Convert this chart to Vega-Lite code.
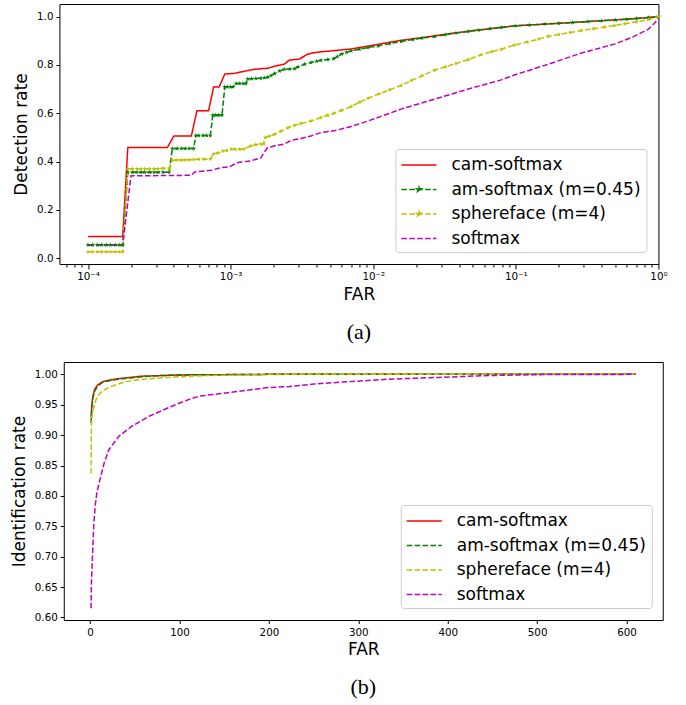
{
  "$schema": "https://vega.github.io/schema/vega-lite/v6.json",
  "background": "white",
  "padding": {"left": 9, "top": 3, "right": 5, "bottom": 5},
  "config": {
    "view": {"stroke": "black", "strokeWidth": 1},
    "font": "DejaVu Sans",
    "axis": {"domain": false, "grid": false, "labelFont": "DejaVu Sans", "labelFontSize": 10.3, "labelColor": "black", "tickColor": "black", "tickSize": 3.5, "labelPadding": 3, "titleFont": "DejaVu Sans", "titleFontSize": 17, "titleFontWeight": "normal", "titleColor": "black", "labelFlush": false, "labelOverlap": false},
    "legend": {"title": null, "orient": "none", "symbolType": "M-1,0L2.5,0", "symbolSize": 400, "symbolStrokeWidth": 1.5, "labelFont": "DejaVu Sans", "labelFontSize": 17, "labelColor": "black", "labelOffset": 29, "rowPadding": 5.5, "padding": 5, "strokeColor": "#cccccc", "fillColor": "white", "cornerRadius": 3, "labelLimit": 400},
    "title": {"font": "Liberation Serif", "fontSize": 22, "fontWeight": "normal", "color": "black"}
  },
  "datasets": {
    "a": [
      {"method": "cam-softmax", "far": 1e-4, "rate": 0.09},
      {"method": "cam-softmax", "far": 1.75e-4, "rate": 0.09},
      {"method": "cam-softmax", "far": 1.9e-4, "rate": 0.458},
      {"method": "cam-softmax", "far": 3.6e-4, "rate": 0.458},
      {"method": "cam-softmax", "far": 4.0e-4, "rate": 0.506},
      {"method": "cam-softmax", "far": 5.3e-4, "rate": 0.506},
      {"method": "cam-softmax", "far": 5.8e-4, "rate": 0.61},
      {"method": "cam-softmax", "far": 7.0e-4, "rate": 0.61},
      {"method": "cam-softmax", "far": 7.6e-4, "rate": 0.709},
      {"method": "cam-softmax", "far": 8.3e-4, "rate": 0.709},
      {"method": "cam-softmax", "far": 9.1e-4, "rate": 0.762},
      {"method": "cam-softmax", "far": 1.06e-3, "rate": 0.765},
      {"method": "cam-softmax", "far": 1.28e-3, "rate": 0.775},
      {"method": "cam-softmax", "far": 1.47e-3, "rate": 0.782},
      {"method": "cam-softmax", "far": 1.82e-3, "rate": 0.786},
      {"method": "cam-softmax", "far": 2.08e-3, "rate": 0.796},
      {"method": "cam-softmax", "far": 2.38e-3, "rate": 0.803},
      {"method": "cam-softmax", "far": 2.58e-3, "rate": 0.82},
      {"method": "cam-softmax", "far": 3.03e-3, "rate": 0.824},
      {"method": "cam-softmax", "far": 3.46e-3, "rate": 0.844},
      {"method": "cam-softmax", "far": 3.78e-3, "rate": 0.85},
      {"method": "cam-softmax", "far": 4.3e-3, "rate": 0.854},
      {"method": "cam-softmax", "far": 5.07e-3, "rate": 0.858},
      {"method": "cam-softmax", "far": 7.0e-3, "rate": 0.866},
      {"method": "cam-softmax", "far": 1.08e-2, "rate": 0.885},
      {"method": "cam-softmax", "far": 1.5e-2, "rate": 0.9},
      {"method": "cam-softmax", "far": 2.2e-2, "rate": 0.913},
      {"method": "cam-softmax", "far": 3.5e-2, "rate": 0.93},
      {"method": "cam-softmax", "far": 5.0e-2, "rate": 0.942},
      {"method": "cam-softmax", "far": 7.9e-2, "rate": 0.955},
      {"method": "cam-softmax", "far": 0.1, "rate": 0.962},
      {"method": "cam-softmax", "far": 0.2, "rate": 0.972},
      {"method": "cam-softmax", "far": 0.4, "rate": 0.983},
      {"method": "cam-softmax", "far": 0.7, "rate": 0.992},
      {"method": "cam-softmax", "far": 1.0, "rate": 1.0},

      {"method": "am-softmax (m=0.45)", "far": 1e-4, "rate": 0.055},
      {"method": "am-softmax (m=0.45)", "far": 1.08e-4, "rate": 0.055},
      {"method": "am-softmax (m=0.45)", "far": 1.16e-4, "rate": 0.055},
      {"method": "am-softmax (m=0.45)", "far": 1.25e-4, "rate": 0.055},
      {"method": "am-softmax (m=0.45)", "far": 1.34e-4, "rate": 0.055},
      {"method": "am-softmax (m=0.45)", "far": 1.44e-4, "rate": 0.055},
      {"method": "am-softmax (m=0.45)", "far": 1.55e-4, "rate": 0.055},
      {"method": "am-softmax (m=0.45)", "far": 1.65e-4, "rate": 0.055},
      {"method": "am-softmax (m=0.45)", "far": 1.75e-4, "rate": 0.055},
      {"method": "am-softmax (m=0.45)", "far": 1.9e-4, "rate": 0.356},
      {"method": "am-softmax (m=0.45)", "far": 2.05e-4, "rate": 0.356},
      {"method": "am-softmax (m=0.45)", "far": 2.2e-4, "rate": 0.356},
      {"method": "am-softmax (m=0.45)", "far": 2.35e-4, "rate": 0.356},
      {"method": "am-softmax (m=0.45)", "far": 2.5e-4, "rate": 0.356},
      {"method": "am-softmax (m=0.45)", "far": 2.7e-4, "rate": 0.356},
      {"method": "am-softmax (m=0.45)", "far": 2.9e-4, "rate": 0.356},
      {"method": "am-softmax (m=0.45)", "far": 3.1e-4, "rate": 0.356},
      {"method": "am-softmax (m=0.45)", "far": 3.35e-4, "rate": 0.356},
      {"method": "am-softmax (m=0.45)", "far": 3.7e-4, "rate": 0.356},
      {"method": "am-softmax (m=0.45)", "far": 3.9e-4, "rate": 0.454},
      {"method": "am-softmax (m=0.45)", "far": 4.2e-4, "rate": 0.454},
      {"method": "am-softmax (m=0.45)", "far": 4.5e-4, "rate": 0.454},
      {"method": "am-softmax (m=0.45)", "far": 4.8e-4, "rate": 0.454},
      {"method": "am-softmax (m=0.45)", "far": 5.1e-4, "rate": 0.454},
      {"method": "am-softmax (m=0.45)", "far": 5.5e-4, "rate": 0.454},
      {"method": "am-softmax (m=0.45)", "far": 5.7e-4, "rate": 0.508},
      {"method": "am-softmax (m=0.45)", "far": 6.0e-4, "rate": 0.508},
      {"method": "am-softmax (m=0.45)", "far": 6.4e-4, "rate": 0.508},
      {"method": "am-softmax (m=0.45)", "far": 6.8e-4, "rate": 0.508},
      {"method": "am-softmax (m=0.45)", "far": 7.2e-4, "rate": 0.508},
      {"method": "am-softmax (m=0.45)", "far": 7.5e-4, "rate": 0.592},
      {"method": "am-softmax (m=0.45)", "far": 7.8e-4, "rate": 0.592},
      {"method": "am-softmax (m=0.45)", "far": 8.2e-4, "rate": 0.592},
      {"method": "am-softmax (m=0.45)", "far": 8.7e-4, "rate": 0.592},
      {"method": "am-softmax (m=0.45)", "far": 9.1e-4, "rate": 0.709},
      {"method": "am-softmax (m=0.45)", "far": 9.5e-4, "rate": 0.709},
      {"method": "am-softmax (m=0.45)", "far": 1.0e-3, "rate": 0.709},
      {"method": "am-softmax (m=0.45)", "far": 1.04e-3, "rate": 0.709},
      {"method": "am-softmax (m=0.45)", "far": 1.09e-3, "rate": 0.723},
      {"method": "am-softmax (m=0.45)", "far": 1.15e-3, "rate": 0.723},
      {"method": "am-softmax (m=0.45)", "far": 1.22e-3, "rate": 0.723},
      {"method": "am-softmax (m=0.45)", "far": 1.28e-3, "rate": 0.723},
      {"method": "am-softmax (m=0.45)", "far": 1.32e-3, "rate": 0.742},
      {"method": "am-softmax (m=0.45)", "far": 1.4e-3, "rate": 0.743},
      {"method": "am-softmax (m=0.45)", "far": 1.5e-3, "rate": 0.744},
      {"method": "am-softmax (m=0.45)", "far": 1.63e-3, "rate": 0.745},
      {"method": "am-softmax (m=0.45)", "far": 1.72e-3, "rate": 0.747},
      {"method": "am-softmax (m=0.45)", "far": 1.82e-3, "rate": 0.749},
      {"method": "am-softmax (m=0.45)", "far": 1.92e-3, "rate": 0.756},
      {"method": "am-softmax (m=0.45)", "far": 2.03e-3, "rate": 0.764},
      {"method": "am-softmax (m=0.45)", "far": 2.2e-3, "rate": 0.775},
      {"method": "am-softmax (m=0.45)", "far": 2.38e-3, "rate": 0.782},
      {"method": "am-softmax (m=0.45)", "far": 2.6e-3, "rate": 0.783},
      {"method": "am-softmax (m=0.45)", "far": 2.8e-3, "rate": 0.784},
      {"method": "am-softmax (m=0.45)", "far": 2.97e-3, "rate": 0.792},
      {"method": "am-softmax (m=0.45)", "far": 3.3e-3, "rate": 0.803},
      {"method": "am-softmax (m=0.45)", "far": 3.66e-3, "rate": 0.81},
      {"method": "am-softmax (m=0.45)", "far": 4.0e-3, "rate": 0.815},
      {"method": "am-softmax (m=0.45)", "far": 4.3e-3, "rate": 0.819},
      {"method": "am-softmax (m=0.45)", "far": 4.8e-3, "rate": 0.822},
      {"method": "am-softmax (m=0.45)", "far": 5.3e-3, "rate": 0.826},
      {"method": "am-softmax (m=0.45)", "far": 5.6e-3, "rate": 0.835},
      {"method": "am-softmax (m=0.45)", "far": 6.0e-3, "rate": 0.845},
      {"method": "am-softmax (m=0.45)", "far": 6.5e-3, "rate": 0.852},
      {"method": "am-softmax (m=0.45)", "far": 7.0e-3, "rate": 0.858},
      {"method": "am-softmax (m=0.45)", "far": 8.0e-3, "rate": 0.865},
      {"method": "am-softmax (m=0.45)", "far": 9.2e-3, "rate": 0.872},
      {"method": "am-softmax (m=0.45)", "far": 1.08e-2, "rate": 0.878},
      {"method": "am-softmax (m=0.45)", "far": 1.3e-2, "rate": 0.888},
      {"method": "am-softmax (m=0.45)", "far": 1.57e-2, "rate": 0.897},
      {"method": "am-softmax (m=0.45)", "far": 1.9e-2, "rate": 0.905},
      {"method": "am-softmax (m=0.45)", "far": 2.2e-2, "rate": 0.911},
      {"method": "am-softmax (m=0.45)", "far": 2.68e-2, "rate": 0.917},
      {"method": "am-softmax (m=0.45)", "far": 3.2e-2, "rate": 0.925},
      {"method": "am-softmax (m=0.45)", "far": 3.8e-2, "rate": 0.932},
      {"method": "am-softmax (m=0.45)", "far": 4.64e-2, "rate": 0.938},
      {"method": "am-softmax (m=0.45)", "far": 5.5e-2, "rate": 0.944},
      {"method": "am-softmax (m=0.45)", "far": 6.6e-2, "rate": 0.95},
      {"method": "am-softmax (m=0.45)", "far": 7.9e-2, "rate": 0.955},
      {"method": "am-softmax (m=0.45)", "far": 0.1, "rate": 0.962},
      {"method": "am-softmax (m=0.45)", "far": 0.125, "rate": 0.965},
      {"method": "am-softmax (m=0.45)", "far": 0.16, "rate": 0.969},
      {"method": "am-softmax (m=0.45)", "far": 0.2, "rate": 0.972},
      {"method": "am-softmax (m=0.45)", "far": 0.25, "rate": 0.975},
      {"method": "am-softmax (m=0.45)", "far": 0.32, "rate": 0.979},
      {"method": "am-softmax (m=0.45)", "far": 0.4, "rate": 0.983},
      {"method": "am-softmax (m=0.45)", "far": 0.5, "rate": 0.986},
      {"method": "am-softmax (m=0.45)", "far": 0.6, "rate": 0.989},
      {"method": "am-softmax (m=0.45)", "far": 0.7, "rate": 0.992},
      {"method": "am-softmax (m=0.45)", "far": 0.85, "rate": 0.996},
      {"method": "am-softmax (m=0.45)", "far": 1.0, "rate": 1.0},

      {"method": "sphereface (m=4)", "far": 1e-4, "rate": 0.027},
      {"method": "sphereface (m=4)", "far": 1.08e-4, "rate": 0.027},
      {"method": "sphereface (m=4)", "far": 1.16e-4, "rate": 0.027},
      {"method": "sphereface (m=4)", "far": 1.25e-4, "rate": 0.027},
      {"method": "sphereface (m=4)", "far": 1.34e-4, "rate": 0.027},
      {"method": "sphereface (m=4)", "far": 1.44e-4, "rate": 0.027},
      {"method": "sphereface (m=4)", "far": 1.55e-4, "rate": 0.027},
      {"method": "sphereface (m=4)", "far": 1.65e-4, "rate": 0.027},
      {"method": "sphereface (m=4)", "far": 1.75e-4, "rate": 0.027},
      {"method": "sphereface (m=4)", "far": 1.9e-4, "rate": 0.37},
      {"method": "sphereface (m=4)", "far": 2.05e-4, "rate": 0.37},
      {"method": "sphereface (m=4)", "far": 2.2e-4, "rate": 0.37},
      {"method": "sphereface (m=4)", "far": 2.35e-4, "rate": 0.37},
      {"method": "sphereface (m=4)", "far": 2.5e-4, "rate": 0.37},
      {"method": "sphereface (m=4)", "far": 2.7e-4, "rate": 0.37},
      {"method": "sphereface (m=4)", "far": 2.9e-4, "rate": 0.37},
      {"method": "sphereface (m=4)", "far": 3.1e-4, "rate": 0.37},
      {"method": "sphereface (m=4)", "far": 3.35e-4, "rate": 0.372},
      {"method": "sphereface (m=4)", "far": 3.7e-4, "rate": 0.372},
      {"method": "sphereface (m=4)", "far": 3.9e-4, "rate": 0.405},
      {"method": "sphereface (m=4)", "far": 4.2e-4, "rate": 0.406},
      {"method": "sphereface (m=4)", "far": 4.5e-4, "rate": 0.406},
      {"method": "sphereface (m=4)", "far": 4.8e-4, "rate": 0.407},
      {"method": "sphereface (m=4)", "far": 5.1e-4, "rate": 0.407},
      {"method": "sphereface (m=4)", "far": 5.5e-4, "rate": 0.408},
      {"method": "sphereface (m=4)", "far": 6.0e-4, "rate": 0.409},
      {"method": "sphereface (m=4)", "far": 6.5e-4, "rate": 0.41},
      {"method": "sphereface (m=4)", "far": 7.2e-4, "rate": 0.41},
      {"method": "sphereface (m=4)", "far": 7.6e-4, "rate": 0.432},
      {"method": "sphereface (m=4)", "far": 8.1e-4, "rate": 0.435},
      {"method": "sphereface (m=4)", "far": 8.8e-4, "rate": 0.444},
      {"method": "sphereface (m=4)", "far": 9.4e-4, "rate": 0.446},
      {"method": "sphereface (m=4)", "far": 1.01e-3, "rate": 0.451},
      {"method": "sphereface (m=4)", "far": 1.08e-3, "rate": 0.451},
      {"method": "sphereface (m=4)", "far": 1.16e-3, "rate": 0.451},
      {"method": "sphereface (m=4)", "far": 1.24e-3, "rate": 0.452},
      {"method": "sphereface (m=4)", "far": 1.39e-3, "rate": 0.465},
      {"method": "sphereface (m=4)", "far": 1.5e-3, "rate": 0.47},
      {"method": "sphereface (m=4)", "far": 1.63e-3, "rate": 0.472},
      {"method": "sphereface (m=4)", "far": 1.7e-3, "rate": 0.474},
      {"method": "sphereface (m=4)", "far": 1.75e-3, "rate": 0.499},
      {"method": "sphereface (m=4)", "far": 1.88e-3, "rate": 0.506},
      {"method": "sphereface (m=4)", "far": 2.03e-3, "rate": 0.513},
      {"method": "sphereface (m=4)", "far": 2.25e-3, "rate": 0.525},
      {"method": "sphereface (m=4)", "far": 2.52e-3, "rate": 0.54},
      {"method": "sphereface (m=4)", "far": 2.8e-3, "rate": 0.55},
      {"method": "sphereface (m=4)", "far": 3.1e-3, "rate": 0.557},
      {"method": "sphereface (m=4)", "far": 3.66e-3, "rate": 0.568},
      {"method": "sphereface (m=4)", "far": 4.3e-3, "rate": 0.582},
      {"method": "sphereface (m=4)", "far": 4.8e-3, "rate": 0.592},
      {"method": "sphereface (m=4)", "far": 5.3e-3, "rate": 0.6},
      {"method": "sphereface (m=4)", "far": 6.0e-3, "rate": 0.612},
      {"method": "sphereface (m=4)", "far": 7.0e-3, "rate": 0.628},
      {"method": "sphereface (m=4)", "far": 8.0e-3, "rate": 0.645},
      {"method": "sphereface (m=4)", "far": 9.2e-3, "rate": 0.662},
      {"method": "sphereface (m=4)", "far": 1.1e-2, "rate": 0.68},
      {"method": "sphereface (m=4)", "far": 1.3e-2, "rate": 0.697},
      {"method": "sphereface (m=4)", "far": 1.57e-2, "rate": 0.715},
      {"method": "sphereface (m=4)", "far": 1.85e-2, "rate": 0.735},
      {"method": "sphereface (m=4)", "far": 2.2e-2, "rate": 0.755},
      {"method": "sphereface (m=4)", "far": 2.68e-2, "rate": 0.778},
      {"method": "sphereface (m=4)", "far": 3.2e-2, "rate": 0.792},
      {"method": "sphereface (m=4)", "far": 3.8e-2, "rate": 0.806},
      {"method": "sphereface (m=4)", "far": 4.64e-2, "rate": 0.822},
      {"method": "sphereface (m=4)", "far": 5.7e-2, "rate": 0.842},
      {"method": "sphereface (m=4)", "far": 6.8e-2, "rate": 0.855},
      {"method": "sphereface (m=4)", "far": 7.9e-2, "rate": 0.865},
      {"method": "sphereface (m=4)", "far": 9.76e-2, "rate": 0.882},
      {"method": "sphereface (m=4)", "far": 0.12, "rate": 0.895},
      {"method": "sphereface (m=4)", "far": 0.145, "rate": 0.907},
      {"method": "sphereface (m=4)", "far": 0.169, "rate": 0.918},
      {"method": "sphereface (m=4)", "far": 0.2, "rate": 0.926},
      {"method": "sphereface (m=4)", "far": 0.24, "rate": 0.934},
      {"method": "sphereface (m=4)", "far": 0.288, "rate": 0.942},
      {"method": "sphereface (m=4)", "far": 0.35, "rate": 0.95},
      {"method": "sphereface (m=4)", "far": 0.42, "rate": 0.957},
      {"method": "sphereface (m=4)", "far": 0.491, "rate": 0.963},
      {"method": "sphereface (m=4)", "far": 0.58, "rate": 0.97},
      {"method": "sphereface (m=4)", "far": 0.7, "rate": 0.978},
      {"method": "sphereface (m=4)", "far": 0.851, "rate": 0.988},
      {"method": "sphereface (m=4)", "far": 1.0, "rate": 1.0},

      {"method": "softmax", "far": 1e-4, "rate": 0.054},
      {"method": "softmax", "far": 1.75e-4, "rate": 0.054},
      {"method": "softmax", "far": 2.0e-4, "rate": 0.341},
      {"method": "softmax", "far": 5.3e-4, "rate": 0.343},
      {"method": "softmax", "far": 5.6e-4, "rate": 0.357},
      {"method": "softmax", "far": 7.3e-4, "rate": 0.364},
      {"method": "softmax", "far": 8.6e-4, "rate": 0.375},
      {"method": "softmax", "far": 9.8e-4, "rate": 0.378},
      {"method": "softmax", "far": 1.12e-3, "rate": 0.396},
      {"method": "softmax", "far": 1.39e-3, "rate": 0.403},
      {"method": "softmax", "far": 1.63e-3, "rate": 0.416},
      {"method": "softmax", "far": 1.75e-3, "rate": 0.445},
      {"method": "softmax", "far": 1.82e-3, "rate": 0.458},
      {"method": "softmax", "far": 2.03e-3, "rate": 0.465},
      {"method": "softmax", "far": 2.38e-3, "rate": 0.472},
      {"method": "softmax", "far": 2.66e-3, "rate": 0.488},
      {"method": "softmax", "far": 3.1e-3, "rate": 0.495},
      {"method": "softmax", "far": 3.66e-3, "rate": 0.506},
      {"method": "softmax", "far": 4.3e-3, "rate": 0.52},
      {"method": "softmax", "far": 5.3e-3, "rate": 0.527},
      {"method": "softmax", "far": 7.0e-3, "rate": 0.545},
      {"method": "softmax", "far": 9.2e-3, "rate": 0.568},
      {"method": "softmax", "far": 1.57e-2, "rate": 0.617},
      {"method": "softmax", "far": 2.68e-2, "rate": 0.658},
      {"method": "softmax", "far": 4.64e-2, "rate": 0.7},
      {"method": "softmax", "far": 7.9e-2, "rate": 0.738},
      {"method": "softmax", "far": 9.76e-2, "rate": 0.758},
      {"method": "softmax", "far": 0.169, "rate": 0.803},
      {"method": "softmax", "far": 0.288, "rate": 0.849},
      {"method": "softmax", "far": 0.491, "rate": 0.886},
      {"method": "softmax", "far": 0.647, "rate": 0.913},
      {"method": "softmax", "far": 0.851, "rate": 0.948},
      {"method": "softmax", "far": 0.937, "rate": 0.972},
      {"method": "softmax", "far": 1.0, "rate": 0.992}
    ],
    "b": [
      {"method": "cam-softmax", "far": 1, "rate": 0.93},
      {"method": "cam-softmax", "far": 2, "rate": 0.95},
      {"method": "cam-softmax", "far": 3, "rate": 0.963},
      {"method": "cam-softmax", "far": 5, "rate": 0.975},
      {"method": "cam-softmax", "far": 8, "rate": 0.982},
      {"method": "cam-softmax", "far": 14, "rate": 0.988},
      {"method": "cam-softmax", "far": 20, "rate": 0.99},
      {"method": "cam-softmax", "far": 32, "rate": 0.993},
      {"method": "cam-softmax", "far": 45, "rate": 0.995},
      {"method": "cam-softmax", "far": 58, "rate": 0.997},
      {"method": "cam-softmax", "far": 80, "rate": 0.998},
      {"method": "cam-softmax", "far": 100, "rate": 0.999},
      {"method": "cam-softmax", "far": 150, "rate": 0.9995},
      {"method": "cam-softmax", "far": 200, "rate": 1.0},
      {"method": "cam-softmax", "far": 610, "rate": 1.0},
      {"method": "am-softmax (m=0.45)", "far": 1, "rate": 0.92},
      {"method": "am-softmax (m=0.45)", "far": 2, "rate": 0.945},
      {"method": "am-softmax (m=0.45)", "far": 3, "rate": 0.96},
      {"method": "am-softmax (m=0.45)", "far": 5, "rate": 0.972},
      {"method": "am-softmax (m=0.45)", "far": 8, "rate": 0.98},
      {"method": "am-softmax (m=0.45)", "far": 14, "rate": 0.987},
      {"method": "am-softmax (m=0.45)", "far": 20, "rate": 0.989},
      {"method": "am-softmax (m=0.45)", "far": 32, "rate": 0.992},
      {"method": "am-softmax (m=0.45)", "far": 45, "rate": 0.994},
      {"method": "am-softmax (m=0.45)", "far": 58, "rate": 0.996},
      {"method": "am-softmax (m=0.45)", "far": 80, "rate": 0.998},
      {"method": "am-softmax (m=0.45)", "far": 100, "rate": 0.999},
      {"method": "am-softmax (m=0.45)", "far": 150, "rate": 0.9995},
      {"method": "am-softmax (m=0.45)", "far": 200, "rate": 1.0},
      {"method": "am-softmax (m=0.45)", "far": 610, "rate": 1.0},
      {"method": "sphereface (m=4)", "far": 1, "rate": 0.837},
      {"method": "sphereface (m=4)", "far": 1.5, "rate": 0.92},
      {"method": "sphereface (m=4)", "far": 2.5, "rate": 0.935},
      {"method": "sphereface (m=4)", "far": 4.5, "rate": 0.948},
      {"method": "sphereface (m=4)", "far": 7, "rate": 0.96},
      {"method": "sphereface (m=4)", "far": 10, "rate": 0.967},
      {"method": "sphereface (m=4)", "far": 15, "rate": 0.974},
      {"method": "sphereface (m=4)", "far": 25, "rate": 0.981},
      {"method": "sphereface (m=4)", "far": 40, "rate": 0.988},
      {"method": "sphereface (m=4)", "far": 60, "rate": 0.992},
      {"method": "sphereface (m=4)", "far": 77, "rate": 0.994},
      {"method": "sphereface (m=4)", "far": 100, "rate": 0.996},
      {"method": "sphereface (m=4)", "far": 130, "rate": 0.998},
      {"method": "sphereface (m=4)", "far": 170, "rate": 0.999},
      {"method": "sphereface (m=4)", "far": 220, "rate": 1.0},
      {"method": "sphereface (m=4)", "far": 610, "rate": 1.0},
      {"method": "softmax", "far": 1, "rate": 0.615},
      {"method": "softmax", "far": 1.5, "rate": 0.66},
      {"method": "softmax", "far": 2.6, "rate": 0.70},
      {"method": "softmax", "far": 4, "rate": 0.75},
      {"method": "softmax", "far": 5.6, "rate": 0.783},
      {"method": "softmax", "far": 7.5, "rate": 0.805},
      {"method": "softmax", "far": 10, "rate": 0.821},
      {"method": "softmax", "far": 15.7, "rate": 0.854},
      {"method": "softmax", "far": 21, "rate": 0.876},
      {"method": "softmax", "far": 32, "rate": 0.898},
      {"method": "softmax", "far": 47, "rate": 0.915},
      {"method": "softmax", "far": 66, "rate": 0.931},
      {"method": "softmax", "far": 92, "rate": 0.948},
      {"method": "softmax", "far": 111, "rate": 0.959},
      {"method": "softmax", "far": 122, "rate": 0.964},
      {"method": "softmax", "far": 160, "rate": 0.971},
      {"method": "softmax", "far": 197, "rate": 0.978},
      {"method": "softmax", "far": 223, "rate": 0.98},
      {"method": "softmax", "far": 250, "rate": 0.984},
      {"method": "softmax", "far": 279, "rate": 0.987},
      {"method": "softmax", "far": 334, "rate": 0.992},
      {"method": "softmax", "far": 390, "rate": 0.995},
      {"method": "softmax", "far": 446, "rate": 0.998},
      {"method": "softmax", "far": 500, "rate": 0.9995},
      {"method": "softmax", "far": 610, "rate": 1.0}
    ]
  },
  "spacing": 17,
  "center": true,
  "resolve": {"scale": {"color": "independent", "strokeDash": "independent"}},
  "vconcat": [
    {
      "data": {"name": "a"},
      "width": 599,
      "height": 260,
      "title": {"text": "(a)", "orient": "bottom", "offset": 20},
      "encoding": {
        "x": {"field": "far", "type": "quantitative", "title": "FAR",
          "scale": {"type": "log", "domain": [6.3e-5, 1], "nice": false},
          "axis": {"values": [7e-5, 8e-5, 9e-5, 1e-4, 2e-4, 3e-4, 4e-4, 5e-4, 6e-4, 7e-4, 8e-4, 9e-4, 1e-3, 2e-3, 3e-3, 4e-3, 5e-3, 6e-3, 7e-3, 8e-3, 9e-3, 1e-2, 2e-2, 3e-2, 4e-2, 5e-2, 6e-2, 7e-2, 8e-2, 9e-2, 0.1, 0.2, 0.3, 0.4, 0.5, 0.6, 0.7, 0.8, 0.9, 1],
            "labelExpr": "abs(log(datum.value)/LN10 - round(log(datum.value)/LN10)) > 0.001 ? '' : round(log(datum.value)/LN10) == 0 ? '10⁰' : round(log(datum.value)/LN10) == -1 ? '10⁻¹' : round(log(datum.value)/LN10) == -2 ? '10⁻²' : round(log(datum.value)/LN10) == -3 ? '10⁻³' : '10⁻⁴'",
            "tickSize": {"condition": {"test": "abs(log(datum.value)/LN10 - round(log(datum.value)/LN10)) < 0.001", "value": 5}, "value": 3},
            "labelPadding": 2, "titlePadding": 5}},
        "y": {"field": "rate", "type": "quantitative", "title": "Detection rate",
          "scale": {"domain": [-0.024, 1.052], "nice": false, "zero": false},
          "axis": {"values": [0, 0.2, 0.4, 0.6, 0.8, 1.0], "format": ".1f", "titlePadding": 6}},
        "color": {"field": "method", "type": "nominal",
          "scale": {"domain": ["cam-softmax", "am-softmax (m=0.45)", "sphereface (m=4)", "softmax"], "range": ["#ff0000", "#008000", "#bfbf00", "#bf00bf"]},
          "legend": {"legendX": 336, "legendY": 145,
            "encode": {"symbols": {"update": {
              "shape": {"signal": "datum.value == 'am-softmax (m=0.45)' || datum.value == 'sphereface (m=4)' ? 'M-1,0L2.5,0M0.75,-0.22L0.799,-0.068L0.959,-0.068L0.83,0.026L0.879,0.178L0.75,0.084L0.621,0.178L0.67,0.026L0.541,-0.068L0.701,-0.068Z' : 'M-1,0L2.5,0'"},
              "fill": {"signal": "datum.value == 'am-softmax (m=0.45)' ? '#008000' : datum.value == 'sphereface (m=4)' ? '#bfbf00' : 'transparent'"}
            }}}}}
      },
      "layer": [
        {"mark": {"type": "line", "strokeWidth": 1.5},
         "encoding": {"strokeDash": {"field": "method", "type": "nominal",
           "scale": {"domain": ["cam-softmax", "am-softmax (m=0.45)", "sphereface (m=4)", "softmax"], "range": [[1, 0], [5.5, 2.4], [5.5, 2.4], [5.5, 2.4]]},
           "legend": {"legendX": 336, "legendY": 145}}}},
        {"transform": [{"filter": "datum.method == 'am-softmax (m=0.45)' || datum.method == 'sphereface (m=4)'"}],
         "mark": {"type": "point", "shape": "M0,-1L0.2245,-0.309L0.9511,-0.309L0.3633,0.118L0.5878,0.809L0,0.382L-0.5878,0.809L-0.3633,0.118L-0.9511,-0.309L-0.2245,-0.309Z", "filled": true, "size": 26, "opacity": 1}}
      ]
    },
    {
      "data": {"name": "b"},
      "width": 599,
      "height": 258,
      "title": {"text": "(b)", "orient": "bottom", "offset": 19},
      "encoding": {
        "x": {"field": "far", "type": "quantitative", "title": "FAR",
          "scale": {"domain": [-29.5, 640.5], "nice": false, "zero": false},
          "axis": {"values": [0, 100, 200, 300, 400, 500, 600], "labelPadding": 4, "titlePadding": 4}},
        "y": {"field": "rate", "type": "quantitative", "title": "Identification rate",
          "scale": {"domain": [0.5958, 1.0203], "nice": false, "zero": false},
          "axis": {"values": [0.6, 0.65, 0.7, 0.75, 0.8, 0.85, 0.9, 0.95, 1.0], "format": ".2f", "titlePadding": 6}},
        "color": {"field": "method", "type": "nominal",
          "scale": {"domain": ["cam-softmax", "am-softmax (m=0.45)", "sphereface (m=4)", "softmax"], "range": ["#ff0000", "#008000", "#bfbf00", "#bf00bf"]},
          "legend": {"legendX": 337, "legendY": 143}},
        "strokeDash": {"field": "method", "type": "nominal",
          "scale": {"domain": ["cam-softmax", "am-softmax (m=0.45)", "sphereface (m=4)", "softmax"], "range": [[1, 0], [5.5, 2.4], [5.5, 2.4], [5.5, 2.4]]},
          "legend": {"legendX": 337, "legendY": 143}}
      },
      "mark": {"type": "line", "strokeWidth": 1.5}
    }
  ]
}
